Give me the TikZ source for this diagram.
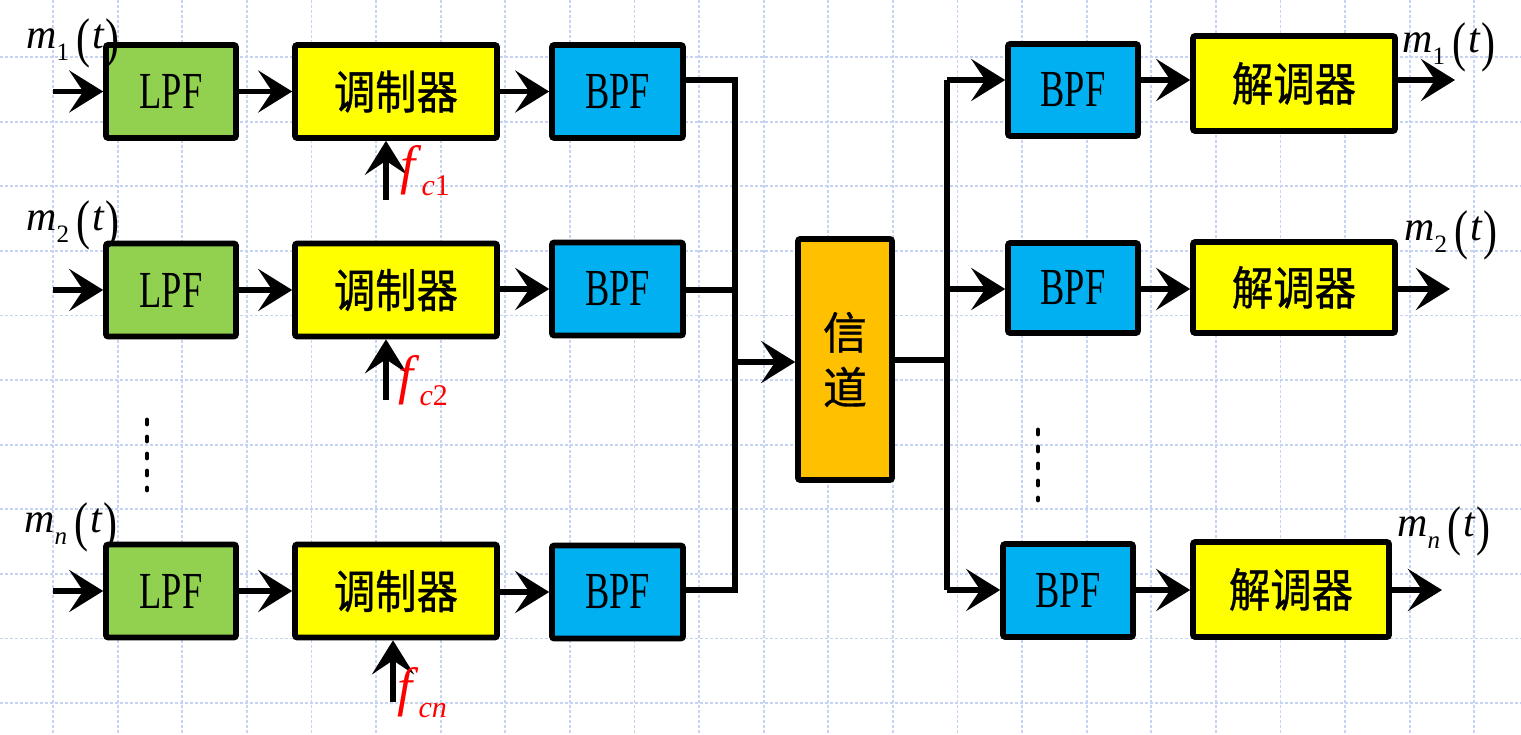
\documentclass[tikz,border=0pt]{standalone}
\usepackage{fontspec}
\setmainfont{Liberation Serif}
\newfontfamily\cjk[FakeBold=0.8]{Noto Sans CJK SC}
\usetikzlibrary{arrows.meta}

\definecolor{lpfgreen}{RGB}{146,208,80}
\definecolor{modyellow}{RGB}{255,255,0}
\definecolor{bpfblue}{RGB}{0,176,240}
\definecolor{chorange}{RGB}{255,192,0}
\definecolor{gridblue}{RGB}{198,211,242}

\newcommand{\squeeze}[1]{\scalebox{0.7}[1]{#1}}
\newcommand{\bigparen}[1]{\raisebox{-4pt}{\scalebox{1}[1.3]{#1}}}
\newcommand{\msig}[1]{\textit{m}\raisebox{-6pt}{\fontsize{12.5pt}{12.5pt}\selectfont #1}\kern3.5pt\bigparen{(}\kern1pt\textit{t}\kern0.5pt\bigparen{)}}
\newcommand{\fsig}[1]{\textit{f}\raisebox{-6pt}{\fontsize{15pt}{15pt}\selectfont\textit{c}#1}}

\tikzset{
  blockbox/.style={draw=black, line width=2.8pt, rounded corners=1pt, inner sep=0pt, minimum height=46.5pt},
  lpfbox/.style={blockbox, fill=lpfgreen, minimum width=65pt, font=\fontsize{26pt}{26pt}\selectfont},
  bpfbox/.style={blockbox, fill=bpfblue, minimum width=65.5pt, font=\fontsize{26pt}{26pt}\selectfont},
  modbox/.style={blockbox, fill=modyellow, minimum width=101pt, font=\cjk\fontsize{23pt}{23pt}\selectfont},
  chbox/.style={blockbox, fill=chorange, minimum width=47pt, minimum height=120.5pt, align=center, font=\cjk\fontsize{22pt}{27.5pt}\selectfont},
  wire/.style={line width=2.6pt},
  sig/.style={wire, -{Stealth[length=17pt, width=21pt, inset=7pt]}},
  siglabel/.style={inner sep=0pt, anchor=base west, font=\fontsize{21pt}{21pt}\selectfont},
  flabel/.style={inner sep=0pt, anchor=base west, text=red, font=\fontsize{27pt}{27pt}\selectfont},
  gridline/.style={gridblue, line width=0.9pt, dash pattern=on 1.5pt off 1pt},
  vdots/.style={line width=2.4pt, line cap=round, dash pattern=on 2pt off 6.5pt}
}

\begin{document}
\begin{tikzpicture}[x=0.5pt, y=-0.5pt]
\useasboundingbox (0,0) rectangle (1521,734);
\fill[white] (0,0) rectangle (1521,734);
\foreach \k in {0,...,10} \draw[gridline] (0,{57+64.6*\k}) -- (1521,{57+64.6*\k});
\foreach \k in {0,...,22} \draw[gridline] ({53+64.6*\k},0) -- ({53+64.6*\k},734);

\node[lpfbox] (lpf1) at (171,91.5) {\squeeze{LPF}};
\node[modbox] (mod1) at (396,91.5) {\scalebox{0.9}[1]{调制器}};
\node[bpfbox] (bpf1) at (617.5,91.5) {\squeeze{BPF}};
\node[lpfbox] (lpf2) at (171,290) {\squeeze{LPF}};
\node[modbox] (mod2) at (396,290) {\scalebox{0.9}[1]{调制器}};
\node[bpfbox] (bpf2) at (617.5,289) {\squeeze{BPF}};
\node[lpfbox] (lpfn) at (171,591) {\squeeze{LPF}};
\node[modbox] (modn) at (396,591) {\scalebox{0.9}[1]{调制器}};
\node[bpfbox] (bpfn) at (617.5,592) {\squeeze{BPF}};

\node[chbox] (ch) at (845,359.5) {信\\道};

\node[bpfbox, minimum width=65pt, minimum height=46pt] (rbpf1) at (1073,90) {\squeeze{BPF}};
\node[modbox, minimum height=47.5pt] (dem1) at (1294,83.5) {\scalebox{0.9}[1]{解调器}};
\node[bpfbox, minimum width=65pt, minimum height=45pt] (rbpf2) at (1073,288) {\squeeze{BPF}};
\node[modbox, minimum height=45.5pt] (dem2) at (1294,287.5) {\scalebox{0.9}[1]{解调器}};
\node[bpfbox, minimum width=65pt] (rbpfn) at (1068,590.5) {\squeeze{BPF}};
\node[modbox, minimum width=98pt, minimum height=47.5pt] (demn) at (1291,589.5) {\scalebox{0.9}[1]{解调器}};

\coordinate (in1) at (53,91.5);
\coordinate (in2) at (53,290);
\coordinate (inn) at (53,591);
\draw[sig] (in1) -- (lpf1);
\draw[sig] (lpf1) -- (mod1);
\draw[sig] (mod1) -- (bpf1);
\draw[sig] (in2) -- (lpf2);
\draw[sig] (lpf2) -- (mod2);
\draw[sig] (mod2.east |- bpf2) -- (bpf2);
\draw[sig] (inn) -- (lpfn);
\draw[sig] (lpfn) -- (modn);
\draw[sig] (modn.east |- bpfn) -- (bpfn);

\coordinate (fc1) at (386,200);
\coordinate (fc2) at (386,400);
\coordinate (fcn) at (393,702);
\draw[sig] (fc1) -- (fc1 |- mod1.south);
\draw[sig] (fc2) -- (fc2 |- mod2.south);
\draw[sig] (fcn) -- (fcn |- modn.south);

\coordinate (b1) at (735,80);
\coordinate (b2) at (735,290);
\coordinate (bn) at (735,590);
\coordinate (cin) at (735,362);
\draw[wire] (bpf1.east |- b1) -- (b1) -- (bn) -- (bpfn.east |- bn);
\draw[wire] (bpf2.east |- b2) -- (b2);
\draw[sig] (cin) -- (cin -| ch.west);

\coordinate (cout) at (947,360);
\coordinate (r1) at (947,80);
\coordinate (r2) at (947,289);
\coordinate (rn) at (947,590);
\draw[wire] (ch.east |- cout) -- (cout);
\draw[wire] (r1) -- (rn);

\coordinate (o1) at (1455,80);
\coordinate (o2) at (1450,289);
\coordinate (on) at (1442,590);
\draw[sig] (r1) -- (r1 -| rbpf1.west);
\draw[sig] (r1 -| rbpf1.east) -- (r1 -| dem1.west);
\draw[sig] (r1 -| dem1.east) -- (o1);
\draw[sig] (r2) -- (r2 -| rbpf2.west);
\draw[sig] (r2 -| rbpf2.east) -- (r2 -| dem2.west);
\draw[sig] (r2 -| dem2.east) -- (o2);
\draw[sig] (rn) -- (rn -| rbpfn.west);
\draw[sig] (rn -| rbpfn.east) -- (rn -| demn.west);
\draw[sig] (rn -| demn.east) -- (on);

\draw[vdots] (147,420) -- (147,490);
\draw[vdots] (1038,430) -- (1038,500);

\node[siglabel] (m1in) at (26,48) {\msig{1}};
\node[siglabel] (m2in) at (26,230) {\msig{2}};
\node[siglabel] (mnin) at (24,532) {\msig{\textit{n}}};
\node[siglabel] (m1out) at (1402,52) {\msig{1}};
\node[siglabel] (m2out) at (1404,240) {\msig{2}};
\node[siglabel] (mnout) at (1397,536) {\msig{\textit{n}}};
\node[flabel] (fc1lbl) at (400,183) {\fsig{1}};
\node[flabel] (fc2lbl) at (398,393) {\fsig{2}};
\node[flabel] (fcnlbl) at (397,705) {\fsig{\textit{n}}};

\end{tikzpicture}
\end{document}
